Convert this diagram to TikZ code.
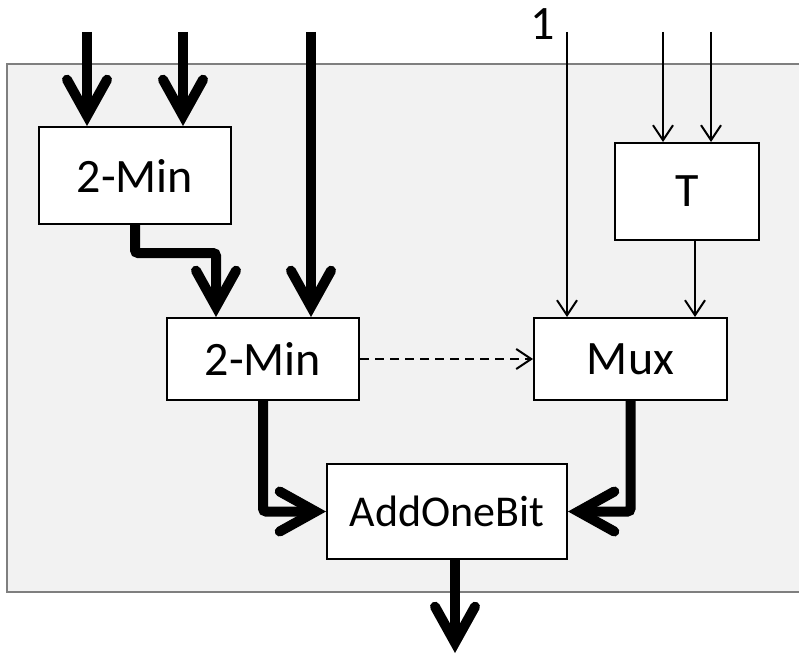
\documentclass[tikz,border=0pt]{standalone}
\usepackage{fontspec}
\setmainfont{Carlito}
\usepackage{xcolor}
\usetikzlibrary{arrows.meta, positioning}

\definecolor{panelgray}{HTML}{F2F2F2}
\definecolor{panelline}{HTML}{7F7F7F}

\tikzset{
  blk/.style={draw, line width=2pt, fill=white, inner sep=0pt, font=\fontsize{48}{52}\selectfont},
  busline/.style={line width=10pt, -{Straight Barb[length=36pt, width=40pt, line cap=round]}},
  bitline/.style={line width=2pt, -{Straight Barb[length=15pt, width=20pt]}},
}

\begin{document}
\begin{tikzpicture}[x=1pt, y=-1pt]
  \useasboundingbox (0,0) rectangle (799,655);
  \clip (0,0) rectangle (799,655);

  % gray panel
  \draw[panelline, fill=panelgray, line width=2pt] (7,64) rectangle (820,592);

  %---- BLOCCHI ----
  \node[blk, minimum width=192pt, minimum height=97pt] (minA) at (135,175.5) {2-Min};
  \node[blk, minimum width=192pt, minimum height=82pt] (minB) at (263,359) {2-Min};
  \node[blk, minimum width=144pt, minimum height=97pt] (tbox) at (687,191.5) {T};
  \node[blk, minimum width=193pt, minimum height=82pt] (mux)  at (630.5,359) {Mux};
  \node[blk, minimum width=240pt, minimum height=95pt, font=\fontsize{44}{48}\selectfont] (add) at (447,511.5) {AddOneBit};

  % ingressi
  \coordinate (inA) at (87,32);
  \coordinate (inB) at (183,32);
  \coordinate (inC) at (311,32);
  \coordinate (inOne) at (567,32);
  \coordinate (inT1) at (663,32);
  \coordinate (inT2) at (711,32);
  \coordinate (out) at (455,653);
  \node[font=\fontsize{48}{52}\selectfont, inner sep=0pt] (one) at (543,24) {1};

  %---- COLLEGAMENTI ----
  \draw[busline] (inA) -- (inA |- minA.north);
  \draw[busline] (inB) -- (inB |- minA.north);
  \draw[busline] (inC) -- (inC |- minB.north);
  \draw[busline, rounded corners=3pt] (minA.south) -- ++(0,28) -| ([xshift=-47pt]minB.north);
  \draw[busline, rounded corners=3pt] (minB.south) |- (add.west);
  \draw[busline, rounded corners=3pt] (mux.south) |- (add.east);
  \draw[busline] ([xshift=8pt]add.south) -- (out);

  \draw[bitline] (inOne) -- (inOne |- mux.north);
  \draw[bitline] (inT1) -- (inT1 |- tbox.north);
  \draw[bitline] (inT2) -- (inT2 |- tbox.north);
  \draw[bitline] ([xshift=8pt]tbox.south) -- ([xshift=8pt]tbox.south |- mux.north);
  \draw[bitline, dash pattern=on 9pt off 6pt] (minB.east) -- (mux.west);
\end{tikzpicture}
\end{document}
